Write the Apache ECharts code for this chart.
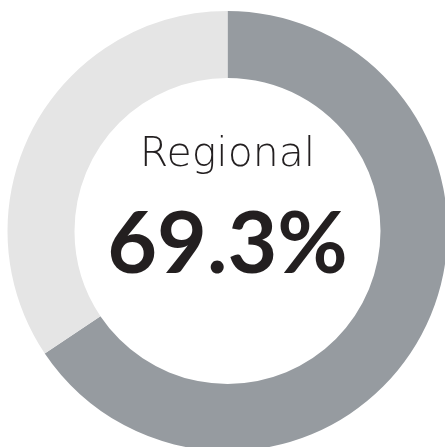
<!DOCTYPE html>
<html>
<head>
<meta charset="utf-8">
<script src="https://cdn.jsdelivr.net/npm/echarts@6/dist/echarts.min.js"></script>
<style>
html, body { margin: 0; padding: 0; background: #fff; }
#myChart { width: 445px; height: 447px; }
</style>
</head>
<body>
<div id="myChart"></div>
<script>
// data
var names = ["Regional", "Other"];
var values = [65.6, 34.4]; // share as drawn by the ring
var label_text = "Regional";
var value_text = "69.3%";

var cx = 227.5, cy = 231;

var chart = echarts.init(document.getElementById("myChart"));
chart.setOption({
    backgroundColor: "#fff",
    animation: false,
    graphic: [
        {
            type: "text",
            x: cx,
            y: 176,
            style: {
                text: label_text,
                align: "center",
                verticalAlign: "bottom",
                fontFamily: "DejaVu Sans",
                fontWeight: 200,
                fontSize: 41,
                fill: "#231f20"
            }
        },
        {
            type: "text",
            x: cx,
            y: 288,
            style: {
                text: value_text,
                align: "center",
                verticalAlign: "bottom",
                fontFamily: "Lato",
                fontWeight: "bold",
                fontSize: 86,
                fill: "#231f20"
            }
        }
    ],
    series: [
        {
            type: "pie",
            center: [cx, cy],
            radius: [153, 220],
            startAngle: 90,
            clockwise: true,
            silent: true,
            label: { show: false },
            labelLine: { show: false },
            data: [
                { name: names[0], value: values[0], itemStyle: { color: "#969ba0" } },
                { name: names[1], value: values[1], itemStyle: { color: "#e5e5e5" } }
            ]
        }
    ]
});
</script>
</body>
</html>
